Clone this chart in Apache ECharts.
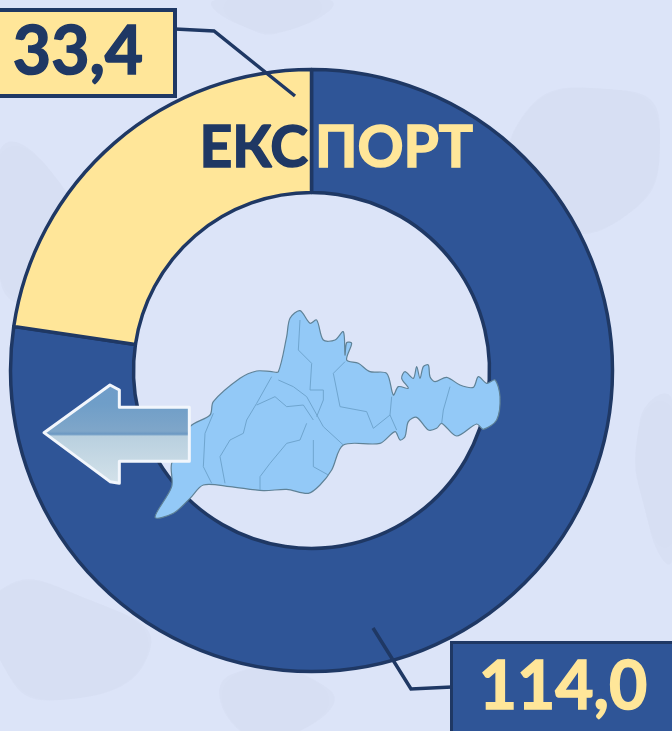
<!DOCTYPE html>
<html>
<head>
<meta charset="utf-8">
<style>html,body{margin:0;padding:0;background:#dce4f8;overflow:hidden}#c{width:672px;height:731px}</style>
<script src="https://cdn.jsdelivr.net/npm/echarts@6/dist/echarts.min.js"></script>
</head>
<body>
<div id="c"></div>
<script>
// дані
const categories = ['Імпорт', 'Експорт'];
const values = [114.0, 33.4];
const valueLabels = ['114,0', '33,4'];
const titleLeft = 'ЕКС';
const titleRight = 'ПОРТ';

const navy = '#1f3864';
const blue = '#2f5597';
const yellow = '#ffe699';
const font = 'Lato, "Open Sans", sans-serif';

// контур області, координати з картинки
const mapOutline = [[375,652],[430,640],[480,595],[520,555],[600,560],[700,572],[770,568],[835,580],[870,555],[905,510],[940,435],[1050,430],[1095,395],[1110,420],[1125,410],[1135,365],[1160,352],[1195,390],[1220,385],[1235,370],[1280,408],[1340,372],[1360,388],[1400,360],[1410,290],[1395,240],[1370,250],[1345,230],[1330,262],[1290,255],[1250,232],[1215,245],[1200,230],[1195,195],[1180,200],[1170,235],[1160,200],[1150,235],[1125,215],[1115,235],[1135,265],[1105,260],[1090,285],[1070,220],[1020,215],[985,190],[950,180],[965,130],[950,128],[945,165],[940,95],[915,120],[880,120],[860,60],[840,70],[810,32],[780,55],[770,110],[745,215],[725,215],[680,213],[630,235],[550,305],[540,345],[480,380],[425,490],[425,560]];
const mapLines = [
  [[745,240],[790,260],[830,290],[880,380],[940,435]],
  [[725,230],[680,310],[650,360],[640,400],[600,420],[570,470],[585,550]],
  [[550,340],[525,400],[520,500],[545,550]],
  [[680,315],[735,290],[770,320],[820,315],[850,360]],
  [[830,370],[810,420],[770,430],[720,490],[690,530],[690,570]],
  [[850,420],[850,500],[895,525]],
  [[810,60],[805,150],[845,190],[840,270],[880,270],[880,300],[860,350]],
  [[945,185],[910,220],[930,320],[1010,335],[1030,385],[1080,345],[1085,290]],
  [[1260,260],[1240,330],[1235,370]],
  [[1080,345],[1100,390]]
];
const arrowShape = [[42,398],[240,255],[268,270],[268,322],[478,322],[478,484],[268,484],[268,550],[240,545]];
const blobs = [
  [[0,150],[50,170],[70,240],[30,300],[0,280]],
  [[215,0],[330,0],[290,30],[240,25]],
  [[520,120],[620,90],[660,130],[620,220],[540,210]],
  [[640,420],[672,400],[672,560],[650,530]],
  [[0,590],[90,600],[150,650],[60,700],[0,660]],
  [[230,675],[330,690],[300,731],[240,731]]
];

const toReal = p => [p[0] / 3 + 30, p[1] / 3 + 300];

const chart = echarts.init(document.getElementById('c'));
chart.setOption({
  backgroundColor: '#dce4f8',
  animation: false,
  series: [{
    type: 'pie',
    center: [311.5, 370.5],
    radius: [178, 301],
    startAngle: 90,
    clockwise: true,
    avoidLabelOverlap: false,
    silent: true,
    itemStyle: { borderColor: navy, borderWidth: 3.5 },
    labelLine: { show: false },
    label: {
      show: true,
      position: 'outside',
      fontFamily: font,
      fontWeight: 'bold',
      fontSize: 66,
      align: 'center',
      verticalAlign: 'middle',
      formatter: p => valueLabels[p.dataIndex]
    },
    labelLayout: p => p.dataIndex === 0
      ? { x: 563, y: 688, align: 'center', verticalAlign: 'middle' }
      : { x: 78, y: 53, align: 'center', verticalAlign: 'middle' },
    data: categories.map((name, i) => ({
      name,
      value: values[i],
      itemStyle: { color: i === 0 ? blue : yellow },
      label: i === 0
        ? { color: yellow, textBorderColor: yellow, textBorderWidth: 1.5, backgroundColor: blue, borderColor: navy, borderWidth: 3, width: 220, height: 88, lineHeight: 88 }
        : { color: navy, textBorderColor: navy, textBorderWidth: 1.5, backgroundColor: yellow, borderColor: navy, borderWidth: 4, width: 190, height: 82, lineHeight: 82 }
    }))
  }],
  graphic: [
    ...blobs.map(b => ({
      type: 'polygon', silent: true, z: -1, zlevel: 0,
      shape: { points: b, smooth: 0.6 },
      style: { fill: 'rgba(150,150,170,0.05)', shadowBlur: 25, shadowColor: 'rgba(150,150,170,0.12)' }
    })),
    {
      type: 'polygon', z: 5, silent: true,
      shape: { points: mapOutline.map(toReal), smooth: 0.3 },
      style: { fill: '#93c9f7', stroke: '#5f8297', lineWidth: 1.2 }
    },
    ...mapLines.map(l => ({
      type: 'polyline', z: 5, silent: true,
      shape: { points: l.map(toReal) },
      style: { fill: null, stroke: '#6fa5cf', lineWidth: 1 }
    })),
    {
      type: 'polygon', z: 6, silent: true,
      shape: { points: arrowShape.map(toReal) },
      style: {
        stroke: '#f2f6fc', lineWidth: 3, lineJoin: 'round',
        fill: new echarts.graphic.LinearGradient(0, 0, 0, 1, [
          { offset: 0, color: '#6f9cc9' },
          { offset: 0.2, color: '#6f9ec8' },
          { offset: 0.47, color: '#7fa6c9' },
          { offset: 0.5, color: '#6a97c2' },
          { offset: 0.52, color: '#b9d0df' },
          { offset: 1, color: '#d4e2ea' }
        ])
      }
    },
    {
      type: 'polyline', z: 7, silent: true,
      shape: { points: [[175, 29], [214, 31], [295, 96]] },
      style: { fill: null, stroke: navy, lineWidth: 3.5 }
    },
    {
      type: 'polyline', z: 7, silent: true,
      shape: { points: [[373, 628], [411, 689], [452, 687]] },
      style: { fill: null, stroke: navy, lineWidth: 3.5 }
    },
    {
      type: 'text', z: 8, silent: true, x: 308, y: 149,
      style: { text: titleLeft, fill: navy, stroke: navy, lineWidth: 1.5, font: 'bold 57px ' + font, textAlign: 'right', textVerticalAlign: 'middle' }
    },
    {
      type: 'text', z: 8, silent: true, x: 315, y: 149,
      style: { text: titleRight, fill: yellow, stroke: yellow, lineWidth: 1.5, font: 'bold 57px ' + font, textAlign: 'left', textVerticalAlign: 'middle' }
    }
  ]
});
</script>
</body>
</html>
